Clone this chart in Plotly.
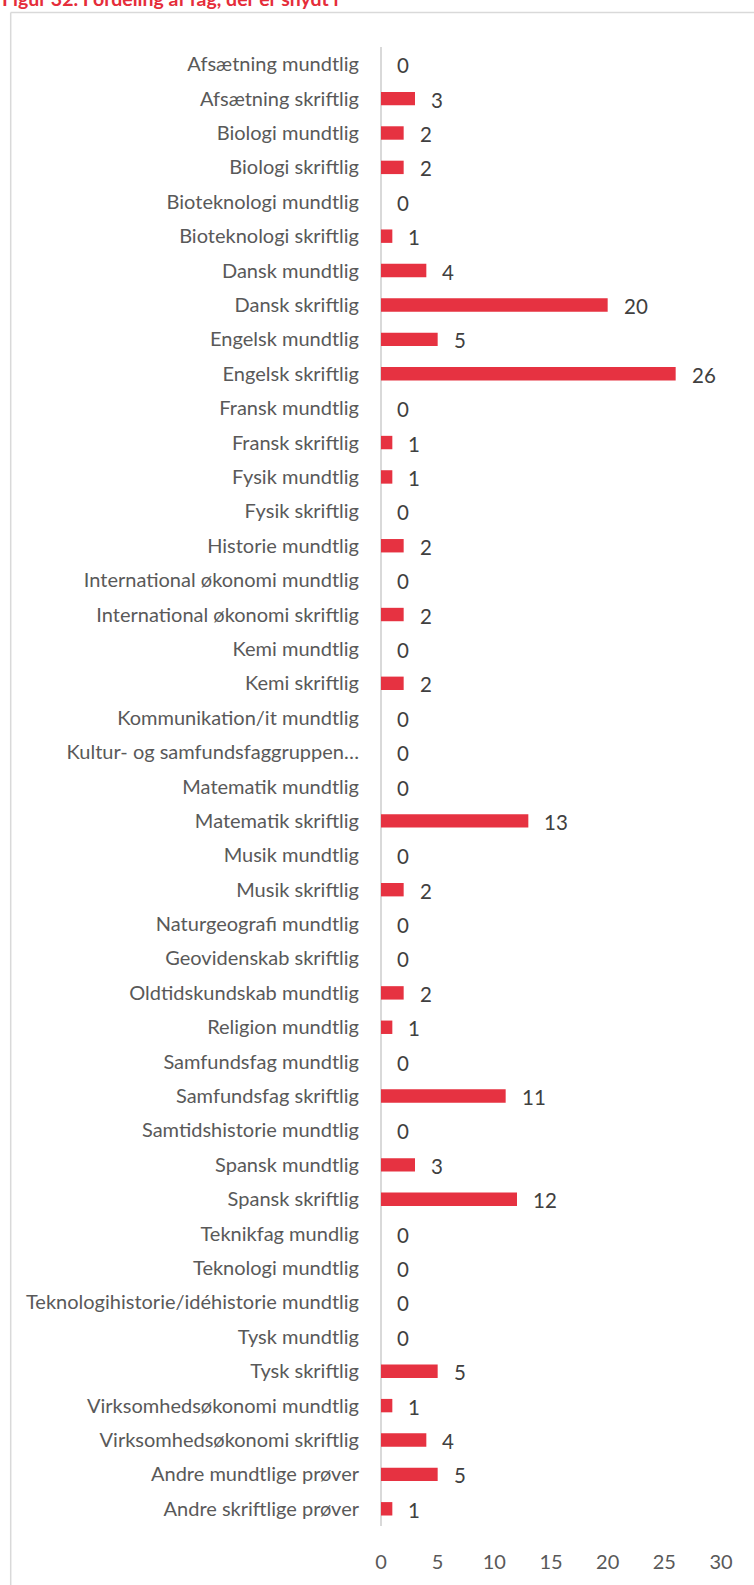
import plotly.graph_objects as go

categories = [
    "Afsætning mundtlig", "Afsætning skriftlig", "Biologi mundtlig", "Biologi skriftlig",
    "Bioteknologi mundtlig", "Bioteknologi skriftlig", "Dansk mundtlig", "Dansk skriftlig",
    "Engelsk mundtlig", "Engelsk skriftlig", "Fransk mundtlig", "Fransk skriftlig",
    "Fysik mundtlig", "Fysik skriftlig", "Historie mundtlig", "International økonomi mundtlig",
    "International økonomi skriftlig", "Kemi mundtlig", "Kemi skriftlig", "Kommunikation/it mundtlig",
    "Kultur- og samfundsfaggruppen…", "Matematik mundtlig", "Matematik skriftlig", "Musik mundtlig",
    "Musik skriftlig", "Naturgeografi mundtlig", "Geovidenskab skriftlig", "Oldtidskundskab mundtlig",
    "Religion mundtlig", "Samfundsfag mundtlig", "Samfundsfag skriftlig", "Samtidshistorie mundtlig",
    "Spansk mundtlig", "Spansk skriftlig", "Teknikfag mundlig", "Teknologi mundtlig",
    "Teknologihistorie/idéhistorie mundtlig", "Tysk mundtlig", "Tysk skriftlig",
    "Virksomhedsøkonomi mundtlig", "Virksomhedsøkonomi skriftlig", "Andre mundtlige prøver",
    "Andre skriftlige prøver",
]
values = [0, 3, 2, 2, 0, 1, 4, 20, 5, 26, 0, 1, 1, 0, 2, 0, 2, 0, 2, 0, 0, 0, 13, 0, 2, 0, 0, 2,
          1, 0, 11, 0, 3, 12, 0, 0, 0, 0, 5, 1, 4, 5, 1]
x_ticks = [0, 5, 10, 15, 20, 25, 30]
title_text = "Figur 32. Fordeling af fag, der er snydt i"

W, H = 754, 1585
L, R, T, B = 380.7, W - 720.6, 46.5, H - 1530
pw, ph = W - L - R, H - T - B

def px_x(p):
    return (p - L) / pw

def px_y(p):
    return 1 - (p - T) / ph

FONT = "Lato"
fig = go.Figure()
fig.add_trace(go.Bar(
    x=values, y=categories, orientation="h",
    marker=dict(color="#E63241", line=dict(width=0)),
    hoverinfo="x+y",
))

annotations = []
for c, v in zip(categories, values):
    annotations.append(dict(
        x=v, y=c, xref="x", yref="y", text=str(v), showarrow=False,
        xanchor="left", yanchor="middle", xshift=14, yshift=-1,
        font=dict(family=FONT, size=20.5, color="#404040"),
    ))
annotations.append(dict(
    x=px_x(0), y=px_y(11), xref="paper", yref="paper", text="<b>" + title_text + "</b>",
    showarrow=False, xanchor="left", yanchor="bottom",
    font=dict(family=FONT, size=19.5, color="#E52D3A"),
))

shapes = [
    dict(type="line", xref="paper", yref="paper", x0=px_x(10.5), x1=px_x(760),
         y0=px_y(12), y1=px_y(12), line=dict(color="#d9d9d9", width=1.5)),
    dict(type="line", xref="paper", yref="paper", x0=px_x(10.5), x1=px_x(10.5),
         y0=px_y(12), y1=px_y(1600), line=dict(color="#d9d9d9", width=1.5)),
]

fig.update_layout(
    width=W, height=H,
    margin=dict(l=L, r=R, t=T, b=B, pad=0),
    paper_bgcolor="white", plot_bgcolor="white",
    bargap=0.61,
    showlegend=False,
    annotations=annotations,
    shapes=shapes,
    font=dict(family=FONT),
    xaxis=dict(
        range=[0, 30], tickvals=x_ticks, showgrid=False, zeroline=True,
        zerolinecolor="#d9d9d9", zerolinewidth=1.5, showline=False,
        ticks="outside", ticklen=18, tickcolor="rgba(0,0,0,0)",
        tickfont=dict(family=FONT, size=20, color="#595959"),
    ),
    yaxis=dict(
        type="category", range=[len(categories) - 0.5, -0.5], showgrid=False,
        zeroline=False, showline=False,
        ticks="outside", ticklen=17, tickcolor="rgba(0,0,0,0)",
        tickfont=dict(family=FONT, size=20, color="#595959"),
    ),
)

fig.write_html(
    "out.html",
    config={"displayModeBar": False},
    post_script="document.body.style.margin='0';document.body.style.overflow='hidden';",
)
